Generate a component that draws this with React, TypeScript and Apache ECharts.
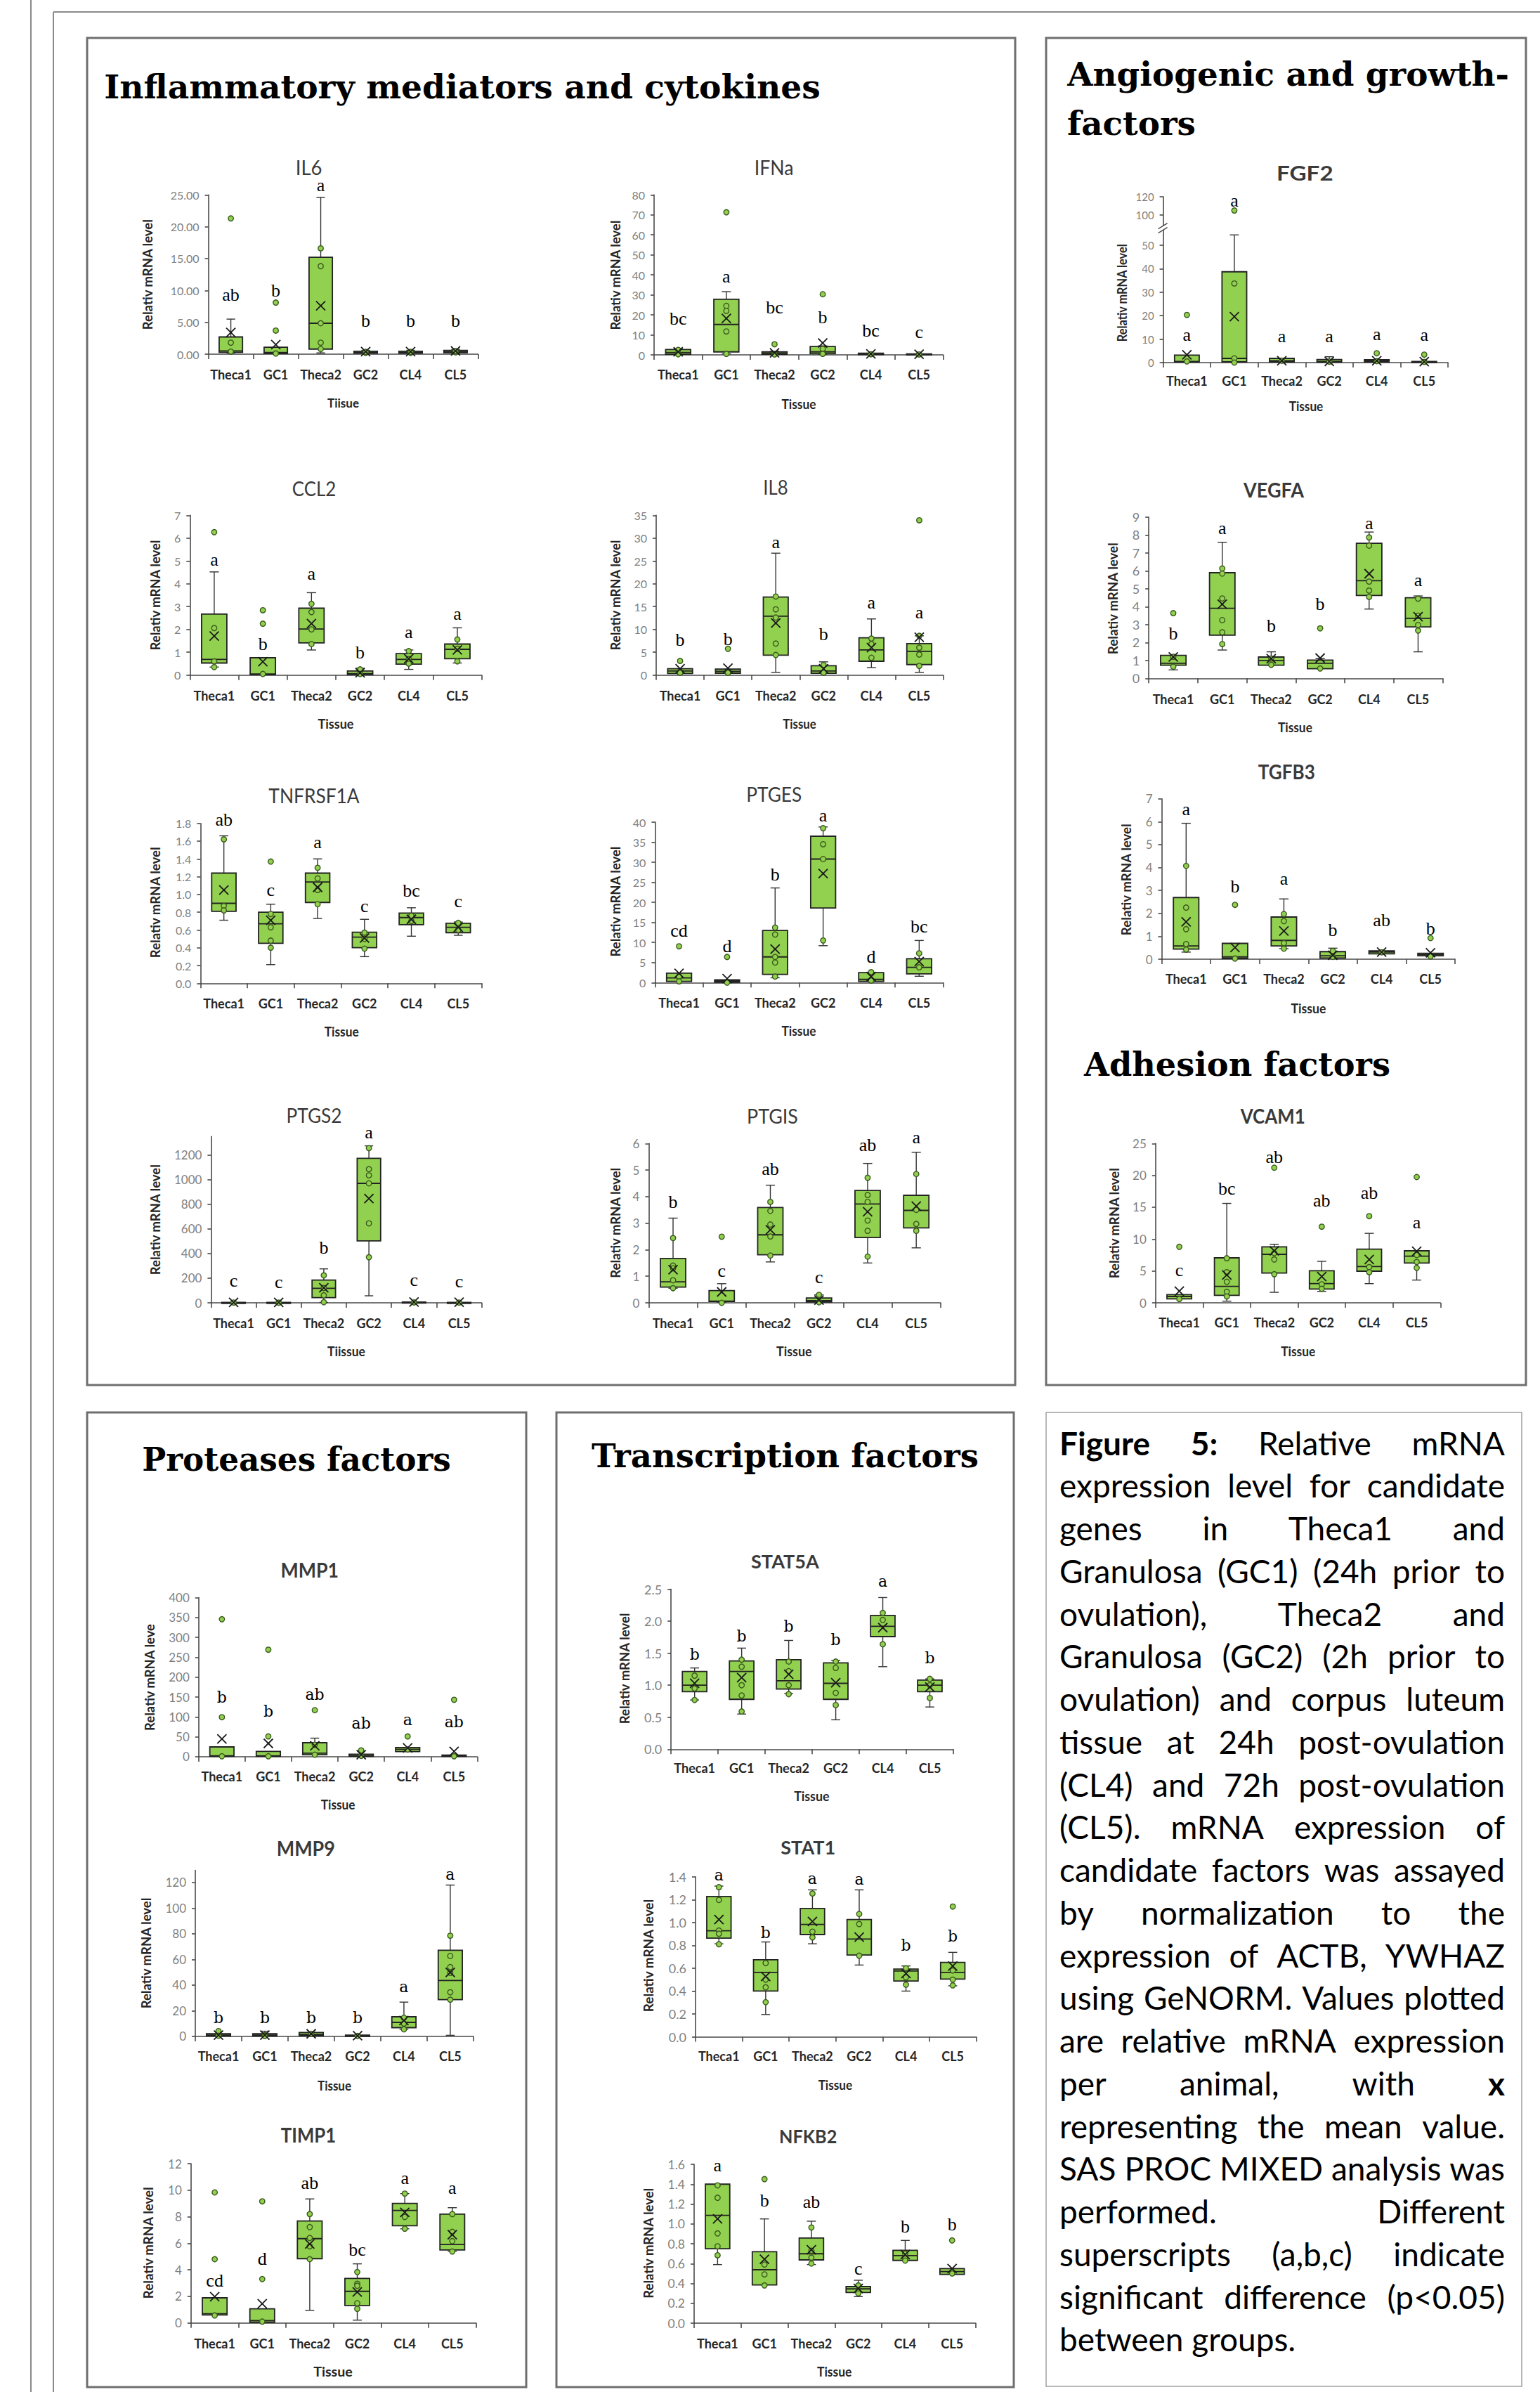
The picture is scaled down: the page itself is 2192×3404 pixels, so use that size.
import React, { useEffect, useRef } from "react";
import * as echarts from "echarts";

const CATS = ["Theca1", "GC1", "Theca2", "GC2", "CL4", "CL5"];
const YNAME = "Relativ mRNA level";

// ---------------- DATA (box = [min, Q1, median, Q3, max]) ----------------
const IL6_ticks = [0, 5, 10, 15, 20, 25];
const IL6_box = [[0.2, 0.3, 0.5, 2.7, 5.5], [0.05, 0.1, 0.25, 1.1, 1.1], [0.2, 0.8, 4.85, 15.2, 24.6], [0.1, 0.15, 0.3, 0.45, 0.6], [0.1, 0.15, 0.3, 0.45, 0.6], [0.15, 0.25, 0.4, 0.6, 0.75]];
const IL6_mean = [3.4, 1.5, 7.6, 0.4, 0.4, 0.5];
const IL6_pts = [[21.3, 1.8, 0.4], [8.1, 3.7, 0.1], [16.6, 13.8, 4.85, 1.8, 0.8], [0.2, 0.35], [0.2, 0.35], [0.3, 0.5]];
const IL6_let = ["ab", "b", "a", "b", "b", "b"];
const IL6_letY = [9.3, 10, 26.5, 5.2, 5.2, 5.2];

const IFNA_ticks = [0, 10, 20, 30, 40, 50, 60, 70, 80];
const IFNA_box = [[0.2, 0.3, 1.2, 2.7, 3.0], [0.5, 1.5, 15.2, 27.8, 31.6], [0.1, 0.3, 0.8, 1.5, 1.8], [0.3, 0.6, 1.5, 4.2, 4.5], [0.05, 0.1, 0.3, 0.8, 0.9], [0.05, 0.1, 0.2, 0.5, 0.6]];
const IFNA_mean = [1.5, 18.2, 1.0, 5.9, 0.5, 0.3];
const IFNA_pts = [[2.5, 0.3], [71.3, 24.5, 22, 11.7, 0.5], [5.3, 0.2], [30.3, 3.0, 0.5], [0.3], [0.2]];
const IFNA_let = ["bc", "a", "bc", "b", "bc", "c"];
const IFNA_letY = [18.2, 39, 23.6, 18.8, 12, 11.4];

const FGF2_ticks = [0, 10, 20, 30, 40, 50, 100, 120];
const FGF2_box = [[0.3, 0.3, 0.5, 3.2, 3.2], [0.1, 0.3, 1.8, 38.7, 54.4], [0.3, 0.3, 0.8, 1.8, 1.8], [0.2, 0.2, 0.5, 1.3, 2.5], [0.3, 0.3, 0.6, 1.2, 1.2], [0.1, 0.1, 0.3, 0.5, 0.5]];
const FGF2_mean = [3.3, 19.6, 0.8, 0.5, 0.8, 0.4];
const FGF2_pts = [[20.3, 0.5], [105, 33.7, 1.8, 0], [0.8], [0.4], [4.0, 0.6], [3.4, 0.3]];
const FGF2_let = ["a", "a", "a", "a", "a", "a"];
const FGF2_letY = [11.8, 116, 11.3, 11.3, 12, 11.8];

const CCL2_ticks = [0, 1, 2, 3, 4, 5, 6, 7];
const CCL2_box = [[0.35, 0.53, 0.69, 2.67, 4.52], [0.02, 0.02, 0.05, 0.76, 0.76], [1.1, 1.41, 2.02, 2.93, 3.61], [0.02, 0.02, 0.06, 0.18, 0.3], [0.25, 0.48, 0.69, 0.94, 1.1], [0.53, 0.72, 1.13, 1.36, 2.07]];
const CCL2_mean = [1.71, 0.59, 2.26, 0.1, 0.72, 1.1];
const CCL2_pts = [[6.26, 2.06, 0.6, 0.35], [2.84, 2.25, 0.05], [3.12, 2.76, 2.0, 1.36], [0.25, 0.05], [1.05, 0.7, 0.5], [1.56, 1.15, 0.6]];
const CCL2_let = ["a", "b", "a", "b", "a", "a"];
const CCL2_letY = [5.05, 1.36, 4.43, 1.0, 1.87, 2.69];

const IL8_ticks = [0, 5, 10, 15, 20, 25, 30, 35];
const IL8_box = [[0.3, 0.36, 0.9, 1.4, 1.4], [0.3, 0.4, 0.8, 1.3, 1.3], [0.6, 4.36, 12.9, 17.1, 26.7], [0.3, 0.4, 0.9, 2.05, 2.9], [1.64, 3.03, 5.5, 8.16, 12.3], [0.6, 2.3, 5.2, 6.9, 8.6]];
const IL8_mean = [1.4, 1.5, 11.4, 1.4, 6.0, 8.3];
const IL8_pts = [[3.1, 0.5], [5.75, 0.5], [17.2, 14.4, 12.6, 6.9, 4.4], [2.2, 0.5], [8.0, 6.8, 3.8], [33.9, 8.6, 6.0, 4.5, 2.0]];
const IL8_let = ["b", "b", "a", "b", "a", "a"];
const IL8_letY = [7.8, 7.9, 29.1, 9.0, 15.9, 13.7];

const VEGFA_ticks = [0, 1, 2, 3, 4, 5, 6, 7, 8, 9];
const VEGFA_box = [[0.47, 0.73, 0.84, 1.28, 1.28], [1.58, 2.41, 3.91, 5.9, 7.6], [0.73, 0.73, 0.99, 1.19, 1.48], [0.54, 0.54, 0.84, 1.02, 1.1], [3.87, 4.63, 5.45, 7.54, 8.17], [1.48, 2.87, 3.35, 4.5, 4.6]];
const VEGFA_mean = [1.19, 4.14, 1.1, 1.13, 5.84, 3.44];
const VEGFA_pts = [[3.64, 1.2, 0.65], [6.13, 5.85, 4.46, 3.25, 2.57, 1.91], [1.1, 0.75], [2.79, 0.55], [7.87, 7.41, 5.4, 4.9, 4.55], [4.45, 3.5, 2.98, 2.67]];
const VEGFA_let = ["b", "a", "b", "b", "a", "a"];
const VEGFA_letY = [2.5, 8.39, 2.93, 4.14, 8.65, 5.48];

const TNF_ticks = [0, 0.2, 0.4, 0.6, 0.8, 1.0, 1.2, 1.4, 1.6, 1.8];
const TNF_box = [[0.71, 0.81, 0.9, 1.24, 1.66], [0.21, 0.45, 0.67, 0.8, 0.89], [0.73, 0.91, 1.14, 1.24, 1.4], [0.3, 0.4, 0.52, 0.575, 0.72], [0.53, 0.66, 0.74, 0.79, 0.85], [0.54, 0.57, 0.63, 0.675, 0.69]];
const TNF_mean = [1.05, 0.71, 1.08, 0.51, 0.72, 0.63];
const TNF_pts = [[1.62, 0.87, 0.82], [1.37, 0.78, 0.63, 0.48, 0.4], [1.3, 1.18, 1.05, 0.89], [0.57, 0.5, 0.39], [0.76, 0.7], [0.68, 0.6]];
const TNF_let = ["ab", "c", "a", "c", "bc", "c"];
const TNF_letY = [1.84, 1.05, 1.59, 0.87, 1.04, 0.92];

const PTGES_ticks = [0, 5, 10, 15, 20, 25, 30, 35, 40];
const PTGES_box = [[0.3, 0.3, 1.17, 2.34, 2.34], [0.05, 0.1, 0.4, 0.7, 0.7], [1.2, 2.04, 6.4, 13.0, 23.6], [9.2, 18.6, 30.8, 36.5, 38.8], [0.3, 0.3, 0.8, 2.5, 2.6], [1.58, 2.16, 3.8, 5.96, 10.5]];
const PTGES_mean = [2.3, 1.0, 8.35, 27.2, 1.5, 5.26];
const PTGES_pts = [[9.05, 1.5, 0.3], [6.4, 0], [13.7, 12.0, 6.4, 5.0, 1.5], [38.5, 34.5, 30.8, 10.5], [2.6, 0.5], [7.3, 3.8]];
const PTGES_let = ["cd", "d", "b", "a", "d", "bc"];
const PTGES_letY = [12.85, 9.05, 26.9, 41.75, 6.4, 14.0];

const TGFB3_ticks = [0, 1, 2, 3, 4, 5, 6, 7];
const TGFB3_box = [[0.31, 0.44, 0.58, 2.69, 5.93], [0.03, 0.03, 0.1, 0.69, 0.69], [0.46, 0.58, 0.82, 1.84, 2.63], [0.05, 0.05, 0.15, 0.33, 0.48], [0.235, 0.235, 0.31, 0.36, 0.36], [0.12, 0.15, 0.2, 0.255, 0.255]];
const TGFB3_mean = [1.63, 0.51, 1.23, 0.17, 0.31, 0.28];
const TGFB3_pts = [[4.07, 2.25, 1.31, 0.66, 0.42], [2.37, 0.03], [1.97, 1.66, 0.7, 0.46], [0.36, 0.1], [0.3], [0.92, 0.12]];
const TGFB3_let = ["a", "b", "a", "b", "ab", "b"];
const TGFB3_letY = [6.54, 3.17, 3.5, 1.28, 1.71, 1.33];

const PTGS2_ticks = [0, 200, 400, 600, 800, 1000, 1200];
const PTGS2_box = [[0, 0, 1, 4, 6], [0, 0, 1, 3, 5], [3, 42, 118, 185, 276], [57, 503, 971, 1175, 1276], [0, 0, 2, 6, 8], [0, 0, 1, 4, 6]];
const PTGS2_mean = [4, 3, 122, 848, 6, 5];
const PTGS2_pts = [[2], [1], [223, 120, 61, 5], [1257, 1086, 1036, 971, 646, 370], [3], [2]];
const PTGS2_let = ["c", "c", "b", "a", "c", "c"];
const PTGS2_letY = [179, 171, 451, 1385, 185, 175];

const PTGIS_ticks = [0, 1, 2, 3, 4, 5, 6];
const PTGIS_box = [[0.55, 0.59, 0.79, 1.67, 3.19], [0.02, 0.05, 0.06, 0.46, 0.72], [1.54, 1.81, 2.56, 3.59, 4.43], [0.02, 0.03, 0.08, 0.18, 0.3], [1.5, 2.46, 3.72, 4.23, 5.25], [2.07, 2.82, 3.48, 4.05, 5.67]];
const PTGIS_mean = [1.25, 0.41, 2.75, 0.1, 3.43, 3.64];
const PTGIS_pts = [[2.44, 1.4, 1.3, 0.85, 0.55], [2.49, 0], [3.8, 3.46, 2.95, 2.5, 1.78], [0.3, 0.02], [4.71, 4.06, 3.8, 3.1, 2.71, 1.74], [4.85, 3.5, 2.97, 2.71]];
const PTGIS_let = ["b", "c", "ab", "c", "ab", "a"];
const PTGIS_letY = [3.81, 1.21, 5.05, 0.97, 5.95, 6.22];

const VCAM1_ticks = [0, 5, 10, 15, 20, 25];
const VCAM1_box = [[0.63, 0.63, 0.99, 1.29, 1.29], [0.26, 1.18, 2.57, 7.06, 15.6], [1.65, 4.67, 7.61, 8.79, 9.19], [1.8, 2.17, 3.01, 5.04, 6.51], [3.01, 4.96, 5.7, 8.42, 10.9], [3.57, 6.25, 7.32, 8.16, 8.2]];
const VCAM1_mean = [1.84, 4.38, 8.16, 4.12, 6.8, 8.09];
const VCAM1_pts = [[8.79, 0.6], [7.0, 4.8, 3.3, 1.73, 1.0], [21.2, 7.8, 6.8, 4.49], [11.95, 2.9, 2.2], [13.6, 5.6, 4.8], [19.74, 7.5, 6.4, 5.48]];
const VCAM1_let = ["c", "bc", "ab", "ab", "ab", "a"];
const VCAM1_letY = [5.15, 17.9, 22.9, 16.1, 17.3, 12.6];

const MMP1_ticks = [0, 50, 100, 150, 200, 250, 300, 350, 400];
const MMP1_box = [[1, 1, 2, 24.6, 24.6], [1, 1, 2, 13.2, 13.2], [5, 5, 8.8, 35.2, 46.6], [1, 1, 2, 6, 6], [13, 13, 18.5, 23, 23], [1, 1, 2, 4, 4]];
const MMP1_mean = [44.8, 33.4, 27.3, 5, 22, 13.2];
const MMP1_pts = [[345.5, 99.3, 1], [269, 51, 1], [116.9, 30, 5], [15.8, 2], [51, 18], [143, 1]];
const MMP1_let = ["b", "b", "ab", "ab", "a", "ab"];
const MMP1_letY = [150, 114, 156, 83.5, 92, 88];

const MMP9_ticks = [0, 20, 40, 60, 80, 100, 120];
const MMP9_box = [[0.3, 0.3, 1, 2, 2], [0.3, 0.3, 1, 2, 4], [0.5, 0.5, 1.5, 3, 3], [0, 0, 0.5, 1, 1], [5.5, 6.8, 10.9, 15.3, 26.7], [0.8, 28.6, 43.6, 67.1, 118]];
const MMP9_mean = [1, 1, 2, 0.5, 12.3, 49.9];
const MMP9_pts = [[4.1, 0.5], [1, 0.3], [2], [0.3], [14.5, 10, 5.5], [78.5, 62.7, 54, 49.5, 34.4, 28.6]];
const MMP9_let = ["b", "b", "b", "b", "a", "a"];
const MMP9_letY = [14.5, 14.5, 14.5, 14.5, 38.5, 126];

const TIMP1_ticks = [0, 2, 4, 6, 8, 10, 12];
const TIMP1_box = [[0.56, 0.6, 0.69, 1.89, 1.89], [0.05, 0.05, 0.18, 1.06, 1.06], [0.95, 4.84, 6.35, 7.68, 9.34], [0.21, 1.31, 2.38, 3.35, 4.45], [7.09, 7.32, 8.47, 9.0, 9.74], [5.4, 5.5, 5.91, 8.2, 8.68]];
const TIMP1_mean = [1.98, 1.45, 5.95, 2.33, 8.33, 6.65];
const TIMP1_pts = [[9.83, 4.8, 0.56], [9.16, 3.3, 0.1], [8.2, 7.22, 6.4, 5.77, 4.8], [3.83, 2.95, 2.8, 1.48, 1.06], [9.74, 7.98, 7.1], [8.2, 6.86, 6.16, 5.38]];
const TIMP1_let = ["cd", "d", "ab", "bc", "a", "a"];
const TIMP1_letY = [3.21, 4.85, 10.54, 5.5, 10.9, 10.15];

const STAT5A_ticks = [0, 0.5, 1.0, 1.5, 2.0, 2.5];
const STAT5A_box = [[0.77, 0.9, 1.0, 1.215, 1.27], [0.55, 0.78, 1.215, 1.38, 1.58], [0.87, 0.94, 1.07, 1.4, 1.7], [0.46, 0.78, 1.03, 1.35, 1.39], [1.29, 1.76, 1.92, 2.09, 2.37], [0.66, 0.9, 1.0, 1.08, 1.1]];
const STAT5A_mean = [1.03, 1.12, 1.17, 1.04, 1.9, 0.97];
const STAT5A_pts = [[1.15, 0.95, 0.77], [1.4, 1.29, 1.0, 0.84, 0.59], [1.37, 1.22, 1.0, 0.86], [1.37, 1.27, 0.88, 0.69], [2.13, 2.02, 1.64], [1.1, 1.0, 0.8]];
const STAT5A_let = ["b", "b", "b", "b", "a", "b"];
const STAT5A_letY = [1.48, 1.77, 1.92, 1.71, 2.62, 1.42];

const STAT1_ticks = [0, 0.2, 0.4, 0.6, 0.8, 1.0, 1.2, 1.4];
const STAT1_box = [[0.814, 0.863, 0.928, 1.228, 1.319], [0.195, 0.4, 0.563, 0.674, 0.83], [0.814, 0.895, 0.983, 1.123, 1.286], [0.628, 0.716, 0.856, 1.026, 1.286], [0.4, 0.488, 0.576, 0.593, 0.62], [0.446, 0.505, 0.563, 0.651, 0.739]];
const STAT1_mean = [1.026, 0.528, 1.009, 0.873, 0.554, 0.619];
const STAT1_pts = [[1.31, 1.198, 0.93, 0.902, 0.81], [0.645, 0.5, 0.433, 0.303], [1.254, 0.92, 0.87], [1.075, 0.987, 0.71], [0.6, 0.52, 0.456], [1.14, 0.58, 0.5, 0.45]];
const STAT1_let = ["a", "b", "a", "a", "b", "b"];
const STAT1_letY = [1.416, 0.912, 1.384, 1.377, 0.798, 0.879];

const NFKB2_ticks = [0, 0.2, 0.4, 0.6, 0.8, 1.0, 1.2, 1.4, 1.6];
const NFKB2_box = [[0.59, 0.75, 1.086, 1.4, 1.4], [0.385, 0.385, 0.538, 0.72, 1.05], [0.59, 0.637, 0.699, 0.857, 1.027], [0.267, 0.309, 0.345, 0.368, 0.432], [0.632, 0.632, 0.68, 0.734, 0.833], [0.491, 0.491, 0.519, 0.55, 0.55]];
const NFKB2_mean = [1.05, 0.644, 0.739, 0.349, 0.691, 0.55];
const NFKB2_pts = [[1.388, 1.263, 0.904, 0.774, 0.684], [1.451, 0.59, 0.491, 0.38], [0.963, 0.73, 0.66, 0.6], [0.38, 0.3], [0.7, 0.65, 0.63], [0.833, 0.5]];
const NFKB2_let = ["a", "b", "ab", "c", "b", "b"];
const NFKB2_letY = [1.588, 1.234, 1.222, 0.55, 0.975, 0.993];

const PANEL_TITLES = ["Inflammatory mediators and cytokines", "Angiogenic and growth-", "factors", "Adhesion factors", "Proteases factors", "Transcription factors"];

const CAPTION = [
  "Figure 5: Relative mRNA",
  "expression level for candidate",
  "genes in Theca1 and",
  "Granulosa (GC1) (24h prior to",
  "ovulation), Theca2 and",
  "Granulosa (GC2) (2h prior to",
  "ovulation) and corpus luteum",
  "tissue at 24h post-ovulation",
  "(CL4) and 72h post-ovulation",
  "(CL5). mRNA expression of",
  "candidate factors was assayed",
  "by normalization to the",
  "expression of ACTB, YWHAZ",
  "using GeNORM. Values plotted",
  "are relative mRNA expression",
  "per animal, with x",
  "representing the mean value.",
  "SAS PROC MIXED analysis was",
  "performed. Different",
  "superscripts (a,b,c) indicate",
  "significant difference (p<0.05)",
  "between groups.",
];

// ---------------- STYLE / LAYOUT ----------------
const GREEN = "#92D050";
const AX = "#4a4a4a";
const SANS = "Lato, Liberation Sans, sans-serif";
const LSANS = "Liberation Sans, Arial, sans-serif";
const SERIF = "Liberation Serif, Times New Roman, serif";
const DJSERIF = "DejaVu Serif, serif";

const fgfT = (v: number) => (v <= 56 ? v : 62.87 + (v - 100) * 0.389);

// g = [left, top, right, bottom]; t = [cx, cy, width, fontSize, weight]; xn = [cx, cy, width]; yn = [cx, cy, length]
const CH: any[] = [
  { title: "IL6", xName: "Tiisue", box: IL6_box, mean: IL6_mean, pts: IL6_pts, let: IL6_let, letY: IL6_letY, ticks: IL6_ticks, dec: 2, max: 25, g: [296.6, 277.3, 680.4, 504], t: [439.6, 238, 37.6, 28, "normal"], xn: [488.5, 573, 45], yn: [210, 390.7, 158], catOff: 29.3, tick: 16 },
  { title: "IFNa", xName: "Tissue", box: IFNA_box, mean: IFNA_mean, pts: IFNA_pts, let: IFNA_let, letY: IFNA_letY, ticks: IFNA_ticks, dec: 0, max: 80, g: [931, 277.3, 1342.5, 505], t: [1101.7, 238, 55.7, 28, "normal"], xn: [1137, 575, 49], yn: [876, 391.7, 157], catOff: 28.3, tick: 16 },
  { title: "FGF2", xName: "Tissue", box: FGF2_box, mean: FGF2_mean, pts: FGF2_pts, let: FGF2_let, letY: FGF2_letY, ticks: FGF2_ticks, dec: 0, max: 70.66, tf: fgfT, brk: 57.3, g: [1655.6, 280, 2061, 516], t: [1857.3, 247, 80.7, 28, "bold"], xn: [1859, 578, 48.6], yn: [1597, 416.7, 140], catOff: 25.7, tick: 15 },
  { title: "CCL2", xName: "Tissue", box: CCL2_box, mean: CCL2_mean, pts: CCL2_pts, let: CCL2_let, letY: CCL2_letY, ticks: CCL2_ticks, dec: 0, max: 7, g: [270.3, 733.3, 685.6, 960.7], t: [447, 695, 62.5, 28, "normal"], xn: [478, 1030, 51], yn: [221.4, 847, 158], catOff: 29, tick: 16 },
  { title: "IL8", xName: "Tissue", box: IL8_box, mean: IL8_mean, pts: IL8_pts, let: IL8_let, letY: IL8_letY, ticks: IL8_ticks, dec: 0, max: 35, g: [934, 733.3, 1342.5, 960.7], t: [1104, 693, 35.4, 28, "normal"], xn: [1138, 1030, 47.4], yn: [876, 847, 158], catOff: 29, tick: 16 },
  { title: "VEGFA", xName: "Tissue", box: VEGFA_box, mean: VEGFA_mean, pts: VEGFA_pts, let: VEGFA_let, letY: VEGFA_letY, ticks: VEGFA_ticks, dec: 0, max: 9, g: [1635.2, 736, 2053.3, 965.3], t: [1813, 697, 85.9, 28, "bold"], xn: [1843.4, 1035, 49], yn: [1584, 851.7, 160], catOff: 30, tick: 18 },
  { title: "TNFRSF1A", xName: "Tissue", box: TNF_box, mean: TNF_mean, pts: TNF_pts, let: TNF_let, letY: TNF_letY, ticks: TNF_ticks, dec: 1, max: 1.8, g: [285.3, 1171.7, 685.6, 1399.3], t: [447, 1132, 129.4, 28, "normal"], xn: [486.2, 1468, 49], yn: [221.4, 1284.3, 159], catOff: 29, tick: 16 },
  { title: "PTGES", xName: "Tissue", box: PTGES_box, mean: PTGES_mean, pts: PTGES_pts, let: PTGES_let, letY: PTGES_letY, ticks: PTGES_ticks, dec: 0, max: 40, g: [932.4, 1170, 1342.5, 1398.3], t: [1101.7, 1130, 79, 28, "normal"], xn: [1137, 1467, 49], yn: [876, 1283, 158], catOff: 29, tick: 16 },
  { title: "TGFB3", xName: "Tissue", box: TGFB3_box, mean: TGFB3_mean, pts: TGFB3_pts, let: TGFB3_let, letY: TGFB3_letY, ticks: TGFB3_ticks, dec: 0, max: 7, g: [1653.5, 1136.7, 2071, 1365], t: [1831.3, 1098, 81, 28, "bold"], xn: [1862.5, 1435, 49.9], yn: [1603.6, 1251.7, 160], catOff: 28, tick: 17 },
  { title: "PTGS2", xName: "Tiissue", box: PTGS2_box, mean: PTGS2_mean, pts: PTGS2_pts, let: PTGS2_let, letY: PTGS2_letY, ticks: PTGS2_ticks, dec: 0, max: 1352, g: [300.4, 1617.3, 685.6, 1854], t: [447, 1587, 79, 28, "normal"], xn: [493, 1923, 54], yn: [221.4, 1735.7, 158], catOff: 29, tick: 17 },
  { title: "PTGIS", xName: "Tissue", box: PTGIS_box, mean: PTGIS_mean, pts: PTGIS_pts, let: PTGIS_let, letY: PTGIS_letY, ticks: PTGIS_ticks, dec: 0, max: 6, g: [923.4, 1627.3, 1338.8, 1854], t: [1099.5, 1588, 73, 28, "normal"], xn: [1130.3, 1923, 50.4], yn: [876, 1740.3, 158], catOff: 29, tick: 17 },
  { title: "VCAM1", xName: "Tissue", box: VCAM1_box, mean: VCAM1_mean, pts: VCAM1_pts, let: VCAM1_let, letY: VCAM1_letY, ticks: VCAM1_ticks, dec: 0, max: 25, g: [1644.8, 1627.3, 2050.3, 1854], t: [1811.7, 1588, 92, 28, "bold"], xn: [1847.7, 1923, 49], yn: [1586.2, 1740.7, 158], catOff: 28, tick: 17 },
  { title: "MMP1", xName: "Tissue", yName: "Relativ mRNA leve", box: MMP1_box, mean: MMP1_mean, pts: MMP1_pts, let: MMP1_let, letY: MMP1_letY, ticks: MMP1_ticks, dec: 0, max: 400, g: [282.8, 2273.5, 679.4, 2499.9], t: [440.8, 2234.7, 82.5, 28, "bold"], xn: [481.1, 2568, 48.8], yn: [212.6, 2387, 153], catOff: 28.4, tick: 17, boldLet: true },
  { title: "MMP9", xName: "Tissue", box: MMP9_box, mean: MMP9_mean, pts: MMP9_pts, let: MMP9_let, letY: MMP9_letY, ticks: MMP9_ticks, dec: 0, max: 129.5, g: [278, 2661.6, 673.9, 2897.9], t: [435.3, 2630.2, 83.2, 28, "bold"], xn: [476, 2968.3, 48], yn: [207.7, 2779.5, 159], catOff: 28.4, tick: 17, boldLet: true },
  { title: "TIMP1", xName: "Tissue", box: TIMP1_box, mean: TIMP1_mean, pts: TIMP1_pts, let: TIMP1_let, letY: TIMP1_letY, ticks: TIMP1_ticks, dec: 0, max: 12, g: [271.8, 3079, 677.6, 3305.7], t: [439, 3038, 78.4, 29, "bold"], xn: [474, 3375, 55.5], yn: [211.4, 3191.7, 160], catOff: 29, tick: 17 },
  { title: "STAT5A", xName: "Tissue", box: STAT5A_box, mean: STAT5A_mean, pts: STAT5A_pts, let: STAT5A_let, letY: STAT5A_letY, ticks: STAT5A_ticks, dec: 1, max: 2.5, g: [955.2, 2261.6, 1357, 2489.3], t: [1117.4, 2221.9, 96.9, 27, "bold"], xn: [1155.3, 2556, 50.2], yn: [889.2, 2374.4, 158.8], catOff: 26.4, tick: 18, boldLet: true },
  { title: "STAT1", xName: "Tissue", box: STAT1_box, mean: STAT1_mean, pts: STAT1_pts, let: STAT1_let, letY: STAT1_letY, ticks: STAT1_ticks, dec: 1, max: 1.4, g: [990, 2670.9, 1389.4, 2898.5], t: [1150.2, 2628.5, 77.9, 27, "bold"], xn: [1188.9, 2967.3, 48.6], yn: [923.6, 2783, 161.5], catOff: 27.5, tick: 18, boldLet: true },
  { title: "NFKB2", xName: "Tissue", box: NFKB2_box, mean: NFKB2_mean, pts: NFKB2_pts, let: NFKB2_let, letY: NFKB2_letY, ticks: NFKB2_ticks, dec: 1, max: 1.6, g: [988, 3080, 1388.6, 3306], t: [1150.2, 3040, 82.2, 27, "bold"], xn: [1187.7, 3375, 49.4], yn: [922.8, 3192.3, 158], catOff: 29, tick: 17.5 },
];

let mctx: any = null;
function measure(text: string, font: string) {
  if (!mctx) mctx = document.createElement("canvas").getContext("2d");
  mctx.font = font;
  return mctx.measureText(text).width;
}

function fitText(text: string, cx: number, cy: number, w: number, size: number, family: string, weight: string, color: string, rot = 0) {
  const nat = measure(text, `${weight} ${size}px ${family}`) || w;
  return {
    type: "text", x: cx, y: cy, rotation: rot, scaleX: w / nat, silent: true,
    style: { text, fontFamily: family, fontSize: size, fontWeight: weight, fill: color, align: "center", verticalAlign: "middle" },
  };
}

function boxRender(params: any, api: any) {
  const j = api.value(0);
  const yy = (v: number) => api.coord([j, v])[1];
  const x = api.coord([j, 0])[0];
  const bw = api.size([1, 0])[0];
  const yMin = yy(api.value(1)), q1 = yy(api.value(2)), md = yy(api.value(3)), q3 = yy(api.value(4)), yMax = yy(api.value(5));
  const hw = bw * 0.26, cw = bw * 0.095;
  const ls = { stroke: "#333333", lineWidth: 1.4, fill: "none" };
  const ch: any[] = [];
  if (q3 - yMax > 0.8) {
    ch.push({ type: "line", shape: { x1: x, y1: q3, x2: x, y2: yMax }, style: ls });
    ch.push({ type: "line", shape: { x1: x - cw, y1: yMax, x2: x + cw, y2: yMax }, style: ls });
  }
  if (yMin - q1 > 0.8) {
    ch.push({ type: "line", shape: { x1: x, y1: q1, x2: x, y2: yMin }, style: ls });
    ch.push({ type: "line", shape: { x1: x - cw, y1: yMin, x2: x + cw, y2: yMin }, style: ls });
  }
  ch.push({ type: "rect", shape: { x: x - hw, y: q3, width: 2 * hw, height: Math.max(q1 - q3, 1.5) }, style: { fill: GREEN, stroke: "#222222", lineWidth: 1.8 } });
  ch.push({ type: "line", shape: { x1: x - hw, y1: md, x2: x + hw, y2: md }, style: { stroke: "#222222", lineWidth: 1.8 } });
  return { type: "group", children: ch };
}

function meanRender(w: number, h: number) {
  return (params: any, api: any) => {
    const p = api.coord([api.value(0), api.value(1)]);
    const s = { stroke: "#1a1a1a", lineWidth: 1.8 };
    return {
      type: "group",
      children: [
        { type: "line", shape: { x1: p[0] - w / 2, y1: p[1] - h / 2, x2: p[0] + w / 2, y2: p[1] + h / 2 }, style: s },
        { type: "line", shape: { x1: p[0] + w / 2, y1: p[1] - h / 2, x2: p[0] - w / 2, y2: p[1] + h / 2 }, style: s },
      ],
    };
  };
}

function letterRender(letters: string[], bold: boolean) {
  return (params: any, api: any) => {
    const p = api.coord([api.value(0), api.value(1)]);
    return {
      type: "text", x: p[0], y: p[1],
      style: { text: letters[params.dataIndex], fontFamily: bold ? DJSERIF : SERIF, fontSize: bold ? 22 : 26, fontWeight: "normal", fill: "#000", align: "center", verticalAlign: "middle" },
    };
  };
}

function breakRender(params: any, api: any) {
  const p = api.coord([0, api.value(1)]);
  const x = p[0] - api.size([1, 0])[0] / 2;
  const y = p[1];
  const st = { stroke: "#4a4a4a", lineWidth: 1.4 };
  return {
    type: "group",
    children: [
      { type: "polygon", shape: { points: [[x - 7, y + 1], [x + 6, y - 7], [x + 6, y - 1], [x - 7, y + 7]] }, style: { fill: "#fff" } },
      { type: "line", shape: { x1: x - 7, y1: y + 1, x2: x + 6, y2: y - 7 }, style: st },
      { type: "line", shape: { x1: x - 7, y1: y + 7, x2: x + 6, y2: y - 1 }, style: st },
    ],
  };
}

function buildOption() {
  const grid: any[] = [], xAxis: any[] = [], yAxis: any[] = [], series: any[] = [], graphic: any[] = [];
  CH.forEach((c, i) => {
    const tf = c.tf || ((v: number) => v);
    const [L, T, R, B] = c.g;
    const catSize = 18;
    grid.push({ left: L, top: T, width: R - L, height: B - T, containLabel: false, outerBoundsMode: "none" });
    xAxis.push({
      gridIndex: i, type: "category", data: CATS, boundaryGap: true,
      axisLine: { show: true, onZero: false, lineStyle: { color: AX, width: 1.6 } },
      axisTick: { show: true, length: 7, alignWithLabel: false, interval: 0, lineStyle: { color: AX, width: 1.6 } },
      axisLabel: { show: true, interval: 0, margin: c.catOff - catSize / 2, fontFamily: SANS, fontSize: catSize, fontWeight: "bold", color: "#262626" },
      splitLine: { show: false },
    });
    const tv = c.ticks.map(tf);
    const fmt = (v: number) => {
      for (let k = 0; k < tv.length; k++) if (Math.abs(tv[k] - v) < 1e-6) return c.ticks[k].toFixed(c.dec);
      return "";
    };
    yAxis.push({
      gridIndex: i, type: "value", min: 0, max: c.max, interval: c.ticks[1] - c.ticks[0],
      axisLine: { show: true, lineStyle: { color: AX, width: 1.6 } },
      axisTick: { show: true, length: 5, customValues: tv, lineStyle: { color: AX, width: 1.6 } },
      axisLabel: { show: true, customValues: tv, margin: 13, fontFamily: SANS, fontSize: c.tick, color: "#7f7f7f", formatter: fmt, showMaxLabel: true },
      splitLine: { show: false },
    });
    const common = { xAxisIndex: i, yAxisIndex: i, silent: true, animation: false };
    series.push({ ...common, type: "custom", z: 2, renderItem: boxRender, encode: { x: 0, y: [1, 2, 3, 4, 5] }, data: c.box.map((b: number[], j: number) => [j, ...b.map(tf)]) });
    series.push({
      ...common, type: "scatter", z: 3, symbol: "circle", symbolSize: 7.5, clip: false,
      itemStyle: { color: GREEN, borderColor: "#3a5a1c", borderWidth: 1.4, opacity: 1 }, emphasis: { disabled: true },
      data: c.pts.flatMap((arr: number[], j: number) => arr.map((v) => [j, tf(v)])),
    });
    series.push({ ...common, type: "custom", z: 4, renderItem: meanRender(13, 13), encode: { x: 0, y: 1 }, data: c.mean.map((v: number, j: number) => [j, tf(v)]) });
    series.push({ ...common, type: "custom", z: 5, renderItem: letterRender(c.let, !!c.boldLet), encode: { x: 0, y: 1 }, data: c.letY.map((v: number, j: number) => [j, tf(v)]) });
    if (c.brk) series.push({ ...common, type: "custom", z: 6, renderItem: breakRender, encode: { x: 0, y: 1 }, data: [[0, c.brk]] });

    graphic.push(fitText(c.title, c.t[0], c.t[1], c.t[2], c.t[3], SANS, c.t[4], "#3a3a3a"));
    graphic.push(fitText(c.xName, c.xn[0], c.xn[1], c.xn[2], 18, SANS, "bold", "#262626"));
    graphic.push(fitText(c.yName || YNAME, c.yn[0], c.yn[1], c.yn[2], 18, SANS, "bold", "#262626", Math.PI / 2));
  });

  // frames
  const FR = "#6f6f6f";
  graphic.push({ type: "line", silent: true, shape: { x1: 76, y1: 17, x2: 2192, y2: 17 }, style: { stroke: "#8a8a8a", lineWidth: 2 } });
  graphic.push({ type: "line", silent: true, shape: { x1: 44, y1: 0, x2: 44, y2: 3404 }, style: { stroke: "#8a8a8a", lineWidth: 2 } });
  graphic.push({ type: "line", silent: true, shape: { x1: 76, y1: 17, x2: 76, y2: 3404 }, style: { stroke: "#8a8a8a", lineWidth: 2 } });
  const PANELS = [[124, 54, 1445, 1971], [1489, 54, 2172, 1971], [124, 2010, 749, 3397], [792, 2010, 1443, 3397]];
  PANELS.forEach((p) => graphic.push({ type: "rect", silent: true, shape: { x: p[0], y: p[1], width: p[2] - p[0], height: p[3] - p[1] }, style: { fill: "none", stroke: FR, lineWidth: 3 } }));
  graphic.push({ type: "rect", silent: true, shape: { x: 1489, y: 2010, width: 677, height: 1386 }, style: { fill: "none", stroke: "#a0a0a0", lineWidth: 1.5 } });

  // panel titles
  const PT = DJSERIF;
  const ptSize = 46;
  const ag = fitText(PANEL_TITLES[1], 1833.5, 106, 629, ptSize, PT, "bold", "#000");
  graphic.push(fitText(PANEL_TITLES[0], 658, 124, 1020, ptSize, PT, "bold", "#000"));
  graphic.push(ag);
  const facW = measure(PANEL_TITLES[2], `bold ${ptSize}px ${PT}`) * ag.scaleX;
  graphic.push(fitText(PANEL_TITLES[2], 1519 + facW / 2, 176, facW, ptSize, PT, "bold", "#000"));
  graphic.push(fitText(PANEL_TITLES[3], 1761, 1515, 436, ptSize, PT, "bold", "#000"));
  graphic.push(fitText(PANEL_TITLES[4], 422, 2077, 440, ptSize, PT, "bold", "#000"));
  graphic.push(fitText(PANEL_TITLES[5], 1117.5, 2072, 551, ptSize, PT, "bold", "#000"));

  // caption (justified)
  const CF = "Lato, Liberation Sans, sans-serif";
  const X0 = 1508, X1 = 2142, Y0 = 2053, DY = 60.76;
  const isBold = (li: number, w: string) => (li === 0 && (w === "Figure" || w === "5:")) || (li === 15 && w === "x");
  let fs = 46;
  let maxW = 0;
  CAPTION.forEach((line, li) => {
    if (li === CAPTION.length - 1) return;
    const words = line.split(" ");
    const sp = measure(" ", `normal ${fs}px ${CF}`);
    const w = words.reduce((a, wd) => a + measure(wd, `${isBold(li, wd) ? "bold" : "normal"} ${fs}px ${CF}`), 0) + sp * (words.length - 1);
    maxW = Math.max(maxW, w);
  });
  if (maxW > X1 - X0) fs = (fs * (X1 - X0)) / maxW;
  CAPTION.forEach((line, li) => {
    const words = line.split(" ");
    const ws = words.map((wd) => measure(wd, `${isBold(li, wd) ? "bold" : "normal"} ${fs}px ${CF}`));
    const tot = ws.reduce((a, b) => a + b, 0);
    const last = li === CAPTION.length - 1;
    const gap = last || words.length < 2 ? measure(" ", `normal ${fs}px ${CF}`) : (X1 - X0 - tot) / (words.length - 1);
    let x = X0;
    words.forEach((wd, k) => {
      graphic.push({
        type: "text", silent: true, x, y: Y0 + li * DY,
        style: { text: wd, fontFamily: CF, fontSize: fs, fontWeight: isBold(li, wd) ? "bold" : "normal", fill: "#000", align: "left", verticalAlign: "middle" },
      });
      x += ws[k] + gap;
    });
  });

  return { animation: false, backgroundColor: "#ffffff", grid, xAxis, yAxis, series, graphic: { elements: graphic } };
}

export default function App() {
  const ref = useRef<HTMLDivElement>(null);
  useEffect(() => {
    document.body.style.margin = "0";
    const chart = echarts.init(ref.current as HTMLDivElement, null, { renderer: "svg" });
    chart.setOption(buildOption() as any);
    return () => chart.dispose();
  }, []);
  return <div ref={ref} style={{ width: 2192, height: 3404 }} />;
}
